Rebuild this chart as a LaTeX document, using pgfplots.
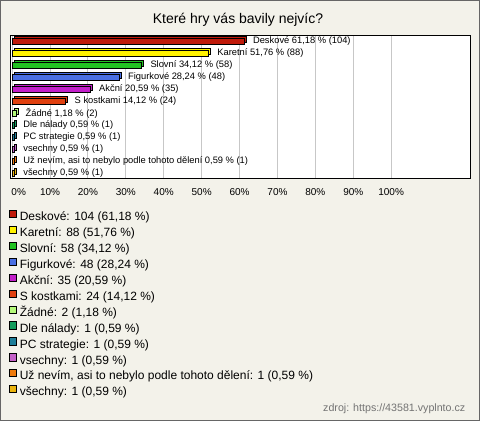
\documentclass[border=0pt]{standalone}
\usepackage{pgfplots}
\pgfplotsset{compat=1.18}
\usepackage{fontspec}
\setmainfont{Liberation Sans}
\definecolor{bg}{HTML}{F3F2EA}
\definecolor{c1}{HTML}{C01A0A}
\definecolor{c2}{HTML}{FFF200}
\definecolor{c3}{HTML}{22C322}
\definecolor{c4}{HTML}{4A6FE3}
\definecolor{c5}{HTML}{C21FC9}
\definecolor{c6}{HTML}{E0400F}
\definecolor{c7}{HTML}{B5FA7A}
\definecolor{c8}{HTML}{139C5C}
\definecolor{c9}{HTML}{1E7E99}
\definecolor{c10}{HTML}{C461C8}
\definecolor{c11}{HTML}{EE7A0A}
\definecolor{c12}{HTML}{EBB40C}
\pgfplotsset{
  sq/.style={legend image code/.code={\draw[fill=#1,draw=black,line width=0.5pt] (0pt,0pt) rectangle (5.4pt,5.4pt);}},
  back/.style={xbar, bar width=4.5pt, bar shift=0pt, fill=#1, draw=black, line width=0.5pt, xshift=1.5pt, yshift=1.5pt, forget plot},
  front/.style={xbar, bar width=4.5pt, bar shift=0pt, fill=#1, draw=black, line width=0.5pt, sq=#1,
    nodes near coords align={horizontal},
    every node near coord/.append style={font=\fontsize{7}{8}\selectfont, anchor=west, xshift=3.2pt, text=black}},
}
\begin{document}
\begin{tikzpicture}[x=1pt,y=1pt]
\fill[bg] (0,0) rectangle (360,315.75);
\draw[color=black!60, line width=0.75pt] (0.375,0.375) rectangle (359.625,315.375);
\node[font=\fontsize{10.5}{12}\selectfont] at (178.5,300.75) {Které hry vás bavily nejvíc?};
\node[font=\fontsize{8}{9}\selectfont, text=black!55, anchor=east] at (352.5,9) {zdroj: https://43581.vyplnto.cz};
\begin{axis}[
  at={(8.25pt,181.5pt)}, anchor=south west,
  scale only axis, width=344.25pt, height=108pt,
  xmin=-0.3, xmax=120.8, ymin=-0.5, ymax=11.5, y dir=reverse,
  axis background/.style={fill=white},
  axis line style={black, line width=0.75pt},
  xtick={0,10,...,100}, ytick=\empty,
  xticklabel={\ifdim\tick pt<1pt\hspace*{9.8pt}\fi\pgfmathprintnumber{\tick}\%},
  /pgf/number format/assume math mode=true,
  xticklabel style={font=\fontsize{7.5}{9}\selectfont, yshift=-3.8pt},
  major tick length=0pt,
  xmajorgrids, grid style={color=black!22, line width=0.75pt},
  clip=false,
  legend cell align=left,
  legend style={at={(rel axis cs:0,0)}, anchor=north west, xshift=-4.5pt, yshift=-21pt,
    draw=none, fill=none, font=\fontsize{9}{10}\selectfont, row sep=1.9pt,
    nodes={inner sep=0pt, text height=6.8pt, text depth=2pt},
    /tikz/every odd column/.append style={column sep=2pt}},
]
\addplot[back=c1] coordinates {(61.18,0)};
\addplot[front=c1, nodes near coords={Deskové 61,18 \% (104)}] coordinates {(61.18,0)};
\addlegendentry{Deskové: 104 (61,18 \%)}
\addplot[back=c2] coordinates {(51.76,1)};
\addplot[front=c2, nodes near coords={Karetní 51,76 \% (88)}] coordinates {(51.76,1)};
\addlegendentry{Karetní: 88 (51,76 \%)}
\addplot[back=c3] coordinates {(34.12,2)};
\addplot[front=c3, nodes near coords={Slovní 34,12 \% (58)}] coordinates {(34.12,2)};
\addlegendentry{Slovní: 58 (34,12 \%)}
\addplot[back=c4] coordinates {(28.24,3)};
\addplot[front=c4, nodes near coords={Figurkové 28,24 \% (48)}] coordinates {(28.24,3)};
\addlegendentry{Figurkové: 48 (28,24 \%)}
\addplot[back=c5] coordinates {(20.59,4)};
\addplot[front=c5, nodes near coords={Akční 20,59 \% (35)}] coordinates {(20.59,4)};
\addlegendentry{Akční: 35 (20,59 \%)}
\addplot[back=c6] coordinates {(14.12,5)};
\addplot[front=c6, nodes near coords={S kostkami 14,12 \% (24)}] coordinates {(14.12,5)};
\addlegendentry{S kostkami: 24 (14,12 \%)}
\addplot[back=c7] coordinates {(1.18,6)};
\addplot[front=c7, nodes near coords={Žádné 1,18 \% (2)}] coordinates {(1.18,6)};
\addlegendentry{Žádné: 2 (1,18 \%)}
\addplot[back=c8] coordinates {(0.59,7)};
\addplot[front=c8, nodes near coords={Dle nálady 0,59 \% (1)}] coordinates {(0.59,7)};
\addlegendentry{Dle nálady: 1 (0,59 \%)}
\addplot[back=c9] coordinates {(0.59,8)};
\addplot[front=c9, nodes near coords={PC strategie 0,59 \% (1)}] coordinates {(0.59,8)};
\addlegendentry{PC strategie: 1 (0,59 \%)}
\addplot[back=c10] coordinates {(0.59,9)};
\addplot[front=c10, nodes near coords={vsechny 0,59 \% (1)}] coordinates {(0.59,9)};
\addlegendentry{vsechny: 1 (0,59 \%)}
\addplot[back=c11] coordinates {(0.59,10)};
\addplot[front=c11, nodes near coords={Už nevím, asi to nebylo podle tohoto dělení 0,59 \% (1)}] coordinates {(0.59,10)};
\addlegendentry{Už nevím, asi to nebylo podle tohoto dělení: 1 (0,59 \%)}
\addplot[back=c12] coordinates {(0.59,11)};
\addplot[front=c12, nodes near coords={všechny 0,59 \% (1)}] coordinates {(0.59,11)};
\addlegendentry{všechny: 1 (0,59 \%)}
\end{axis}
\pgfresetboundingbox
\useasboundingbox (0,0) rectangle (360,315.75);
\end{tikzpicture}
\end{document}
